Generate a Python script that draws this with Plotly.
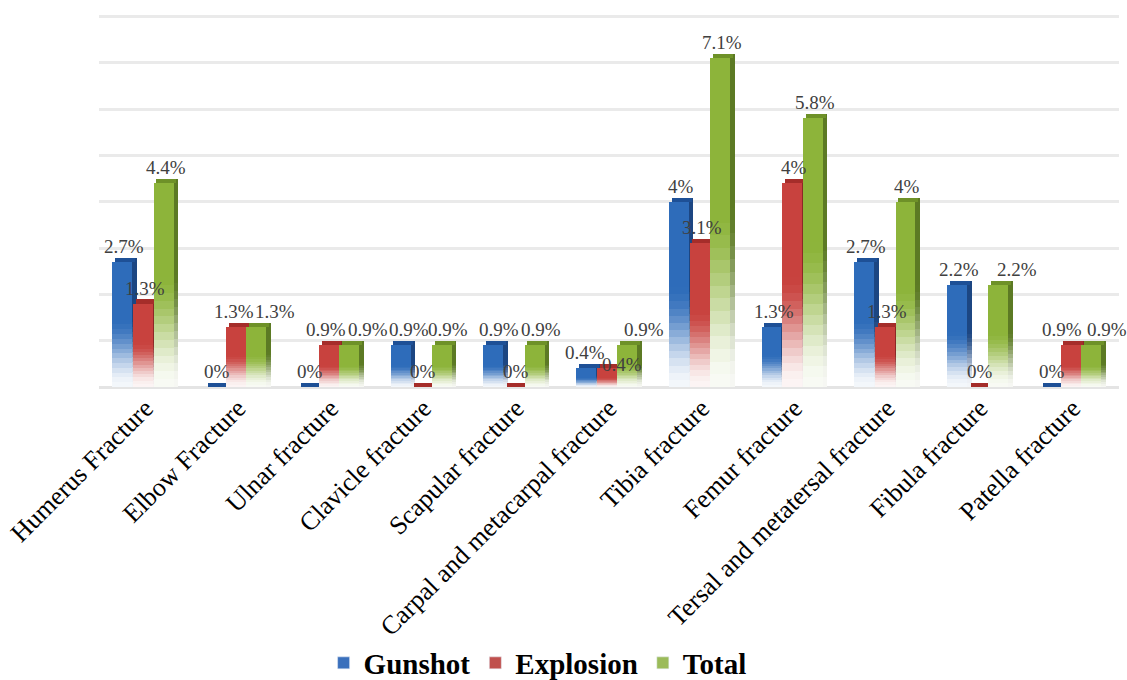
import plotly.graph_objects as go

categories = ["Humerus Fracture", "Elbow Fracture", "Ulnar fracture", "Clavicle fracture",
              "Scapular fracture", "Carpal and metacarpal fracture", "Tibia fracture",
              "Femur fracture", "Tersal and metatersal fracture", "Fibula fracture",
              "Patella fracture"]
series_names = ["Gunshot", "Explosion", "Total"]
# bar heights as drawn (percent)
gunshot = [2.7, 0, 0, 0.9, 0.9, 0.4, 4.0, 1.3, 2.7, 2.2, 0]
explosion = [1.8, 1.3, 0.9, 0, 0, 0.4, 3.1, 4.4, 1.3, 0, 0.9]
total = [4.4, 1.3, 0.9, 0.9, 0.9, 0.9, 7.1, 5.8, 4.0, 2.2, 0.9]
# data label texts as printed
gunshot_labels = ["2.7%", "0%", "0%", "0.9%", "0.9%", "0.4%", "4%", "1.3%", "2.7%", "2.2%", "0%"]
explosion_labels = ["1.3%", "1.3%", "0.9%", "0%", "0%", "0.4%", "3.1%", "4%", "1.3%", "0%", "0.9%"]
total_labels = ["4.4%", "1.3%", "0.9%", "0.9%", "0.9%", "0.9%", "7.1%", "5.8%", "4%", "2.2%", "0.9%"]

values = [gunshot, explosion, total]
labels = [gunshot_labels, explosion_labels, total_labels]

# style: pixel nudges for data labels that the original spread apart (series index, category index)
LABEL_NUDGE = {
    (1, 1): (-4, 0), (2, 1): (17, 0),
    (1, 2): (-5, 0), (2, 2): (17, 0),
    (0, 3): (6, 0), (2, 3): (4, 0),
    (0, 4): (4, 0), (2, 4): (4, 0),
    (0, 5): (-3, 0), (1, 5): (13, -12), (2, 5): (15, 0),
    (2, 9): (17, 0),
    (1, 10): (-11, 0), (2, 10): (14, 0),
}

front_cols = [(46, 108, 186), (200, 66, 62), (141, 180, 58)]
side_cols = [(28, 70, 130), (140, 40, 38), (92, 122, 36)]
top_cols = [(30, 80, 150), (165, 45, 42), (110, 145, 40)]
legend_cols = ["#3A70BC", "#C0504D", "#9BBB59"]

W = 0.215
offsets = [-0.355, -0.13, 0.09]
SIDE = 0.055
N = 26
CAP = 0.09
SPACING = 92.7  # px per category (for label shifts)


def mix(c, f):
    # f: fraction from bottom (0..1)
    t = min(1.0, f / 0.55)
    t = t * t * (3 - 2 * t)
    m = 0.05 + 0.95 * t
    r, g, b = (255 + (ci - 255) * m for ci in c)
    return f"rgb({int(r)},{int(g)},{int(b)})"


fig = go.Figure()

for s in range(3):
    vals = values[s]
    off = offsets[s]
    # side face (behind)
    for k in range(N):
        f = (k + 0.5) / N
        fig.add_trace(go.Bar(
            x=categories, y=[(v + CAP) / N if v > 0 else 0 for v in vals],
            base=[(v + CAP) * k / N if v > 0 else 0 for v in vals],
            offset=off + W - 0.005, width=SIDE,
            marker=dict(color=mix(side_cols[s], f), line=dict(width=0)),
            showlegend=False, hoverinfo="skip"))
    # front face gradient slices
    for k in range(N):
        f = (k + 0.5) / N
        fig.add_trace(go.Bar(
            x=categories, y=[v / N for v in vals],
            base=[v * k / N for v in vals],
            offset=off, width=W,
            marker=dict(color=mix(front_cols[s], f), line=dict(width=0)),
            showlegend=False, hoverinfo="skip"))
    # top cap
    fig.add_trace(go.Bar(
        x=categories, y=[CAP] * len(vals), base=vals,
        offset=off + 0.03, width=W,
        marker=dict(color="rgb(%d,%d,%d)" % top_cols[s], line=dict(width=0)),
        showlegend=False, hoverinfo="skip"))
    # legend entry
    fig.add_trace(go.Bar(
        x=[categories[0]], y=[0], name=series_names[s],
        marker=dict(color=legend_cols[s]), showlegend=True,
        hoverinfo="skip", width=0.0001))

annotations = []
for s in range(3):
    shift = (offsets[s] + W / 2) * SPACING + 2
    for i, cat in enumerate(categories):
        dx, dy = LABEL_NUDGE.get((s, i), (0, 0))
        annotations.append(dict(
            x=cat, y=values[s][i], xref="x", yref="y", text=labels[s][i],
            showarrow=False, xanchor="center", yanchor="bottom",
            xshift=shift + dx, yshift=3 + dy,
            font=dict(family="Liberation Serif", size=19, color="#404040")))

fig.update_layout(
    width=1127, height=680,
    margin=dict(l=99, r=8, t=15, b=293, autoexpand=False),
    plot_bgcolor="white", paper_bgcolor="white",
    barmode="overlay", bargap=0,
    annotations=annotations,
    showlegend=True,
    legend=dict(orientation="h", x=0.43, xanchor="center", y=-0.742, yanchor="middle",
                font=dict(family="Liberation Serif", size=29, color="black", weight="bold"),
                itemwidth=30, traceorder="normal"),
    xaxis=dict(type="category", categoryorder="array", categoryarray=categories,
               range=[-0.5, 10.5], tickangle=-45, showgrid=False, showline=False,
               automargin=False,
               ticks="", tickfont=dict(family="Liberation Serif", size=26, color="black")),
    yaxis=dict(range=[0, 8.03], dtick=1, showticklabels=False, showgrid=True,
               automargin=False,
               gridcolor="#EAEAEA", gridwidth=3, zeroline=True, zerolinecolor="#E4E4E4",
               zerolinewidth=3, showline=False, ticks=""),
)

fig.write_html("out.html")
